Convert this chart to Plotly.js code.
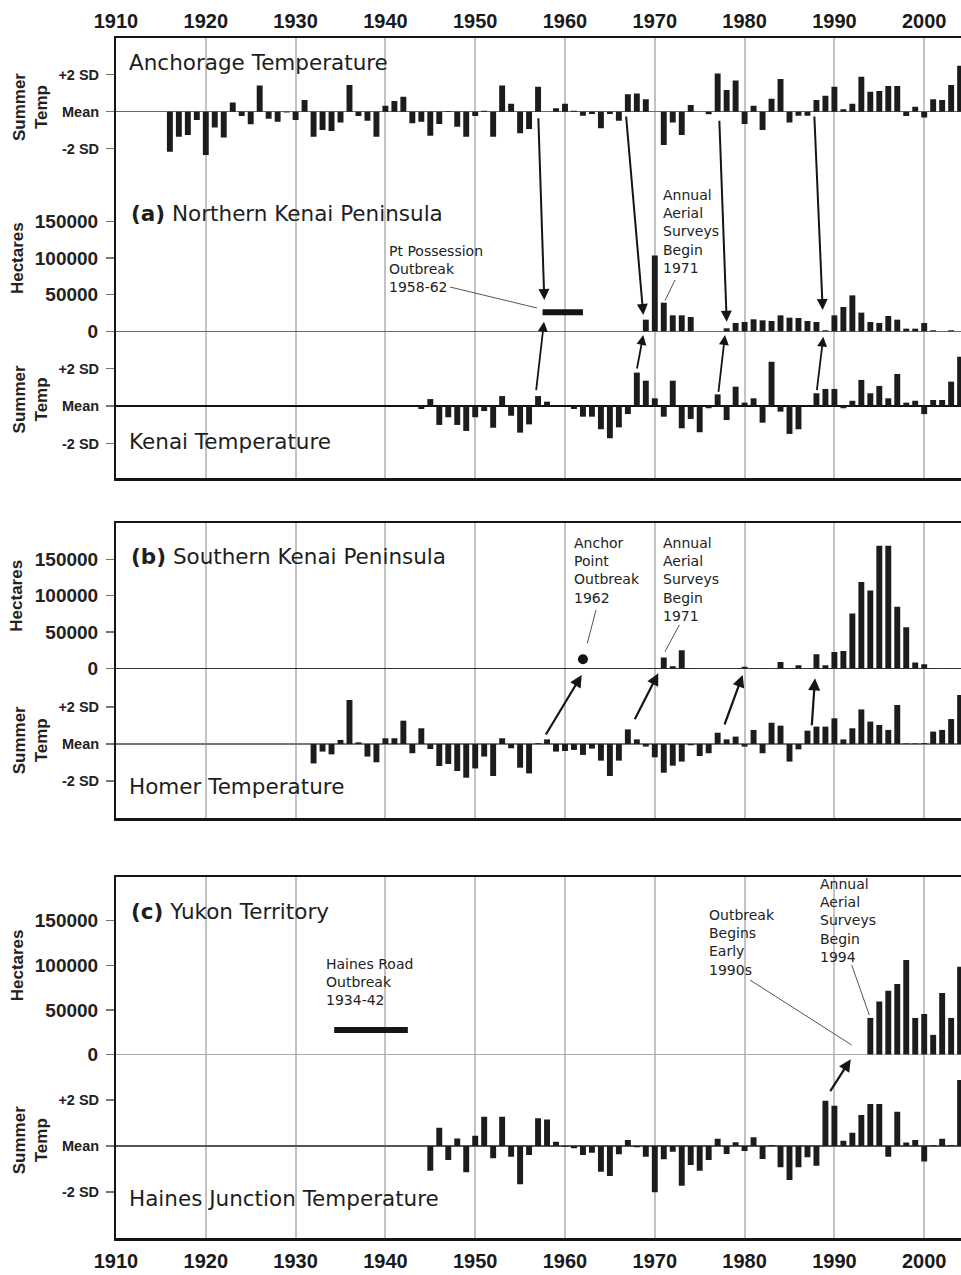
<!DOCTYPE html>
<html>
<head>
<meta charset="utf-8">
<script src="https://cdn.plot.ly/plotly-3.0.1.min.js"></script>
<style>
html,body{margin:0;padding:0;background:#fff;}
#chart{width:961px;height:1275px;}
</style>
</head>
<body>
<div id="chart"></div>
<script>
// ---------------- DATA ----------------
const yearTicks = [1910, 1920, 1930, 1940, 1950, 1960, 1970, 1980, 1990, 2000];
const tempTickVals = [-2, 0, 2];
const tempTickText = ['-2 SD', 'Mean', '+2 SD'];
const haTickVals = [0, 50000, 100000, 150000];
const haTickText = ['0', '50000', '100000', '150000'];

// Anchorage summer temperature (SD units), 1916-2004
const anchorageStart = 1916;
const anchorageTemp = [
  -2.16, -1.35, -1.26, -0.45, -2.34, -0.85, -1.39, 0.50, -0.23, -0.68,
  1.41, -0.38, -0.54, -0.04, -0.45, 0.63, -1.35, -0.99, -1.05, -0.59,
  1.44, -0.23, -0.49, -1.35, 0.32, 0.58, 0.81, -0.63, -0.54, -1.30,
  -0.67, 0.04, -0.81, -1.35, -0.23, 0.05, -1.35, 1.41, 0.43, -1.17,
  -0.94, 1.35, 0.00, 0.18, 0.43, 0.05, -0.22, -0.13, -0.90, -0.13,
  -0.49, 0.94, 0.99, 0.67, 0.00, -1.80, -0.58, -1.26, 0.36, 0.00,
  -0.14, 2.07, 1.17, 1.68, -0.67, 0.32, -0.99, 0.70, 1.77, -0.59,
  -0.22, -0.22, 0.63, 0.86, 1.35, 0.13, 0.43, 1.89, 1.08, 1.12,
  1.39, 1.39, -0.23, 0.27, -0.31, 0.67, 0.63, 1.44, 2.49
];

// Northern Kenai Peninsula, hectares infested, 1969-2004
const nKenaiStart = 1969;
const nKenaiHa = [
  15900, 103600, 39100, 21800, 21800, 19500, 0, 0, 0, 4100,
  11400, 12700, 16400, 15000, 14100, 21800, 18600, 18200, 14100, 12700,
  1400, 21800, 33200, 49100, 25500, 12700, 11400, 20900, 15900, 3600,
  3600, 11400, 1400, 0, 1400, 0
];

// Kenai summer temperature, 1944-2004
const kenaiStart = 1944;
const kenaiTemp = [
  -0.16, 0.37, -1.01, -0.60, -1.01, -1.33, -0.60, -0.27, -1.16, 0.53,
  -0.52, -1.42, -0.98, 0.53, 0.23, 0.00, 0.02, -0.16, -0.57, -0.57,
  -1.24, -1.72, -1.14, -0.43, 1.78, 1.35, 0.41, -0.57, 1.35, -1.19,
  -0.69, -1.40, -0.12, 0.62, -0.75, 1.03, 0.18, 0.41, -0.89, 2.36,
  -0.30, -1.49, -1.24, 0.03, 0.68, 0.91, 0.91, -0.12, 0.28, 1.39,
  0.68, 1.07, 0.41, 1.71, 0.18, 0.28, -0.43, 0.32, 0.32, 1.30, 2.63
];

// Southern Kenai Peninsula, hectares infested, 1971-2004
const sKenaiStart = 1971;
const sKenaiHa = [
  15000, 3200, 25000, 400, 0, 0, 0, 0, 0, 2300,
  500, 400, 0, 9100, 400, 4500, 0, 19500, 4500, 22800,
  24200, 75400, 118800, 107000, 168500, 168500, 84900, 56500, 8200, 5900,
  500, 0, 400, 0
];

// Homer summer temperature, 1932-2004
const homerStart = 1932;
const homerTemp = [
  -1.05, -0.41, -0.56, 0.22, 2.38, 0.09, -0.68, -0.99, 0.31, 0.31,
  1.26, -0.50, 0.85, -0.27, -1.19, -1.08, -1.46, -1.82, -1.32, -0.68,
  -1.73, 0.31, -0.23, -1.28, -1.59, 0.04, 0.25, -0.41, -0.38, -0.32,
  -0.59, -0.25, -0.90, -1.73, -0.90, 0.79, 0.25, -0.14, -0.72, -1.55,
  -1.17, -0.95, -0.07, -0.65, -0.50, 0.61, 0.25, 0.40, -0.14, 0.76,
  -0.50, 1.15, 0.99, -0.95, -0.29, 0.72, 0.94, 0.94, 1.39, 0.25,
  0.85, 1.87, 1.21, 1.03, 0.76, 2.11, 0.03, 0.03, 0.05, 0.67,
  0.76, 1.35, 2.65
];

// Yukon Territory, hectares infested, 1994-2004
const yukonStart = 1994;
const yukonHa = [41000, 59300, 71600, 79100, 106000, 41000, 45500, 22000, 69000, 41000, 98500];

// Haines Junction summer temperature, 1945-2004
const hainesStart = 1945;
const hainesTemp = [
  -1.08, 0.80, -0.61, 0.33, -1.15, 0.45, 1.28, -0.54, 1.28, -0.47,
  -1.67, -0.39, 1.21, 1.16, 0.19, -0.03, -0.10, -0.39, -0.29, -1.12,
  -1.31, -0.36, 0.26, -0.06, -0.47, -2.02, -0.58, -0.25, -1.74, -0.83,
  -1.08, -0.61, 0.32, -0.35, 0.16, -0.22, 0.38, -0.57, 0.04, -0.93,
  -1.48, -0.93, -0.49, -0.86, 1.98, 1.76, 0.23, 0.58, 1.35, 1.83,
  1.83, -0.47, 1.50, 0.15, 0.26, -0.68, 0.03, 0.32, 0.03, 2.88
];

// Outbreak periods without annual data
const possessionOutbreakYears = [1957.5, 1962.0];
const possessionOutbreakHa = [26000, 26000];
const hainesRoadOutbreakYears = [1934.3, 1942.5];
const hainesRoadOutbreakHa = [27500, 27500];
const anchorPointYear = [1962];
const anchorPointHa = [12600];

// ---------------- LAYOUT GEOMETRY ----------------
const W = 961, H = 1275, ML = 116;
const PX_PER_YEAR = 8.98;
const XR = [1910, 1910 + (W - ML) / PX_PER_YEAR];
const ARIAL = 'Liberation Sans, Arial, Helvetica, sans-serif';
const DEJAVU = 'DejaVu Sans, Verdana, sans-serif';
const INK = '#151515';

function yearsFrom(start, n) { const a = []; for (let i = 0; i < n; i++) a.push(start + i); return a; }

// subplot geometry in pixels: top, bottom, pixel of reference value, pixels per unit
const geo = {
  y:  {t: 38.3,  b: 180,    ref: 111.7,  ppu: 18.5},
  y2: {t: 180,   b: 340,    ref: 331.3,  ppu: 36.6 / 50000},
  y3: {t: 340,   b: 478,    ref: 406,    ppu: 18.75},
  y4: {t: 523.3, b: 680,    ref: 668.5,  ppu: 36.4 / 50000},
  y5: {t: 680,   b: 818,    ref: 744,    ppu: 18.5},
  y6: {t: 877.3, b: 1065,   ref: 1054.5, ppu: 44.6 / 50000},
  y7: {t: 1065,  b: 1238.3, ref: 1146,   ppu: 22.9}
};
function dom(k) { const g = geo[k]; return [1 - g.b / H, 1 - g.t / H]; }
function rng(k) { const g = geo[k]; return [-(g.b - g.ref) / g.ppu, (g.ref - g.t) / g.ppu]; }
function xId(k) { return 'x' + k.slice(1); }
function yearAt(px) { return XR[0] + (px - ML) / PX_PER_YEAR; }
function valAt(k, py) { const g = geo[k]; return (g.ref - py) / g.ppu; }

const zeroStyles = {
  y:  {c: '#6a6a6a', w: 1.3},
  y2: {c: '#6a6a6a', w: 1.2},
  y3: {c: '#111111', w: 2.2},
  y4: {c: '#333333', w: 1.5},
  y5: {c: '#777777', w: 1.2},
  y6: {c: '#aaaaaa', w: 1.5},
  y7: {c: '#555555', w: 1.2}
};
const kinds = {y: 'temp', y2: 'ha', y3: 'temp', y4: 'ha', y5: 'temp', y6: 'ha', y7: 'temp'};

const layout = {
  width: W, height: H,
  margin: {l: ML, r: 0, t: 0, b: 0, pad: 0},
  paper_bgcolor: '#ffffff', plot_bgcolor: 'rgba(0,0,0,0)',
  showlegend: false, hovermode: false,
  barmode: 'group',
  annotations: [], shapes: []
};

Object.keys(geo).forEach(k => {
  const kind = kinds[k];
  const axName = k === 'y' ? 'yaxis' : 'yaxis' + k.slice(1);
  layout[axName] = {
    domain: dom(k), range: rng(k), anchor: k === 'y' ? 'x' : xId(k),
    showline: true, linewidth: 2, linecolor: INK,
    ticks: 'outside', ticklen: 8, tickwidth: 1.5, tickcolor: '#777',
    showgrid: false, fixedrange: true,
    zeroline: true, zerolinecolor: zeroStyles[k].c, zerolinewidth: zeroStyles[k].w,
    tickvals: kind === 'temp' ? tempTickVals : haTickVals,
    ticktext: kind === 'temp' ? tempTickText : haTickText,
    tickfont: kind === 'temp'
      ? {family: ARIAL, size: 14.5, color: '#222', weight: 'bold'}
      : {family: ARIAL, size: 19, color: '#222', weight: 'bold'},
    ticklabelstandoff: 4
  };
  const xName = k === 'y' ? 'xaxis' : 'xaxis' + k.slice(1);
  layout[xName] = {
    domain: [0, 1], range: XR, anchor: k,
    showgrid: true, gridcolor: '#c3c3c3', gridwidth: 2,
    tickvals: yearTicks, ticks: '', showticklabels: false,
    showline: false, zeroline: false, fixedrange: true
  };
});
// box borders & year labels
Object.assign(layout.xaxis, {side: 'top', showline: true, linewidth: 2.5, linecolor: INK,
  showticklabels: true, tickfont: {family: ARIAL, size: 20, color: '#1a1a1a', weight: 'bold'}, ticklabelstandoff: 0});
Object.assign(layout.xaxis3, {side: 'bottom', showline: true, linewidth: 2.5, linecolor: INK});
Object.assign(layout.xaxis4, {side: 'top', showline: true, linewidth: 2.5, linecolor: INK});
Object.assign(layout.xaxis5, {side: 'bottom', showline: true, linewidth: 2.5, linecolor: INK});
Object.assign(layout.xaxis6, {side: 'top', showline: true, linewidth: 2.5, linecolor: INK});
Object.assign(layout.xaxis7, {side: 'bottom', showline: true, linewidth: 2.5, linecolor: INK,
  showticklabels: true, tickfont: {family: ARIAL, size: 20, color: '#1a1a1a', weight: 'bold'}, ticklabelstandoff: 3});

// ---------------- TRACES ----------------
function bars(start, vals, k) {
  return {type: 'bar', x: yearsFrom(start, vals.length), y: vals, width: 0.66,
    marker: {color: '#1c1c1c', line: {width: 0}}, xaxis: k === 'y' ? 'x' : xId(k), yaxis: k, hoverinfo: 'skip'};
}
const data = [
  bars(anchorageStart, anchorageTemp, 'y'),
  bars(nKenaiStart, nKenaiHa, 'y2'),
  bars(kenaiStart, kenaiTemp, 'y3'),
  bars(sKenaiStart, sKenaiHa, 'y4'),
  bars(homerStart, homerTemp, 'y5'),
  bars(yukonStart, yukonHa, 'y6'),
  bars(hainesStart, hainesTemp, 'y7'),
  {type: 'scatter', mode: 'lines', x: possessionOutbreakYears, y: possessionOutbreakHa,
    xaxis: 'x2', yaxis: 'y2', line: {color: INK, width: 6}, hoverinfo: 'skip'},
  {type: 'scatter', mode: 'lines', x: hainesRoadOutbreakYears, y: hainesRoadOutbreakHa,
    xaxis: 'x6', yaxis: 'y6', line: {color: INK, width: 6}, hoverinfo: 'skip'},
  {type: 'scatter', mode: 'markers', x: anchorPointYear, y: anchorPointHa,
    xaxis: 'x4', yaxis: 'y4', marker: {color: INK, size: 10}, hoverinfo: 'skip'}
];

// ---------------- ANNOTATIONS ----------------
function label(text, px, py, k, font) {
  layout.annotations.push({
    xref: k === 'y' ? 'x' : xId(k), yref: k, x: yearAt(px), y: valAt(k, py),
    text: text, showarrow: false, xanchor: 'left', yanchor: 'middle', align: 'left',
    font: font
  });
}
const titleFont = {family: DEJAVU, size: 21.5, color: '#1e1e1e'};
const noteFont = {family: DEJAVU, size: 14, color: '#222'};

label('Anchorage Temperature', 127, 62, 'y', titleFont);
label('<b>(a)</b> Northern Kenai Peninsula', 129, 214, 'y2', titleFont);
label('Kenai Temperature', 127, 441.5, 'y3', titleFont);
label('<b>(b)</b> Southern Kenai Peninsula', 129, 556.5, 'y4', titleFont);
label('Homer Temperature', 127, 786, 'y5', titleFont);
label('<b>(c)</b> Yukon Territory', 129, 911, 'y6', titleFont);
label('Haines Junction Temperature', 127, 1198, 'y7', titleFont);

label('Pt Possession<br>Outbreak<br>1958-62', 387, 269.2, 'y2', noteFont);
label('Annual<br>Aerial<br>Surveys<br>Begin<br>1971', 660.7, 231.4, 'y2', noteFont);
label('Anchor<br>Point<br>Outbreak<br>1962', 571.7, 570.1, 'y4', noteFont);
label('Annual<br>Aerial<br>Surveys<br>Begin<br>1971', 660.7, 579, 'y4', noteFont);
label('Haines Road<br>Outbreak<br>1934-42', 324, 981.9, 'y6', noteFont);
label('Outbreak<br>Begins<br>Early<br>1990s', 706.7, 942, 'y6', noteFont);
label('Annual<br>Aerial<br>Surveys<br>Begin<br>1994', 818.3, 920.9, 'y6', noteFont);

// y-axis titles
function ytitle(text, pxCenter, k, v) {
  layout.annotations.push({
    xref: 'paper', yref: k, x: (pxCenter - ML) / (W - ML), y: v,
    text: text, showarrow: false, textangle: -90, xanchor: 'center', yanchor: 'middle',
    font: {family: ARIAL, size: 17, color: '#222', weight: 'bold'}
  });
}
ytitle('Summer<br>Temp', 30, 'y', 0.25);
ytitle('Hectares', 17, 'y2', 100000);
ytitle('Summer<br>Temp', 30, 'y3', 0.35);
ytitle('Hectares', 17, 'y4', 100000);
ytitle('Summer<br>Temp', 30, 'y5', 0.2);
ytitle('Hectares', 17, 'y6', 100000);
ytitle('Summer<br>Temp', 30, 'y7', 0.25);

// leader lines (thin)
function leader(x0, y0, x1, y1, k, dash) {
  layout.shapes.push({type: 'line', xref: xId(k), yref: k,
    x0: yearAt(x0), y0: valAt(k, y0), x1: yearAt(x1), y1: valAt(k, y1),
    line: {color: '#555', width: 1, dash: dash || 'solid'}});
}
leader(450, 287, 537, 308, 'y2', 'solid');
leader(675, 280, 665, 300.7, 'y2');
leader(596, 610, 587.3, 643.3, 'y4');
leader(679.3, 625, 665, 651.7, 'y4');
leader(750, 980, 851.7, 1045, 'y6');
leader(851.7, 965, 869.3, 1015, 'y6');

// arrows: tail (px), head (px) on head subplot
function arrow(tx, ty, hx, hy, k, w) {
  layout.annotations.push({
    xref: xId(k), yref: k, x: yearAt(hx), y: valAt(k, hy),
    ax: tx - hx, ay: ty - hy, axref: 'pixel', ayref: 'pixel',
    text: '', showarrow: true, arrowhead: 2, arrowsize: 1.1, arrowwidth: w || 2,
    arrowcolor: INK, standoff: 0, startstandoff: 0
  });
}
arrow(538.3, 116.7, 544.3, 300, 'y2');
arrow(626, 115, 643.3, 315, 'y2');
arrow(719.3, 119.3, 726.7, 321.7, 'y2');
arrow(814.3, 115, 822.7, 310, 'y2');
arrow(536, 391.7, 544, 321.7, 'y2', 1.8);
arrow(636.7, 370, 643.3, 335, 'y2', 1.8);
arrow(718.3, 393.3, 725, 335, 'y2', 1.8);
arrow(816.7, 391.7, 823.3, 336.7, 'y2', 1.8);
arrow(545, 736, 581.7, 675, 'y4', 2.2);
arrow(634, 720.7, 658.3, 673.3, 'y4', 2.2);
arrow(724, 726, 742.7, 675, 'y4', 2.2);
arrow(811.7, 726.7, 815, 678.3, 'y4', 2.2);
arrow(829.3, 1092.7, 850.7, 1059.3, 'y6', 2.2);

Plotly.newPlot('chart', data, layout, {displayModeBar: false, staticPlot: true});
</script>
</body>
</html>
